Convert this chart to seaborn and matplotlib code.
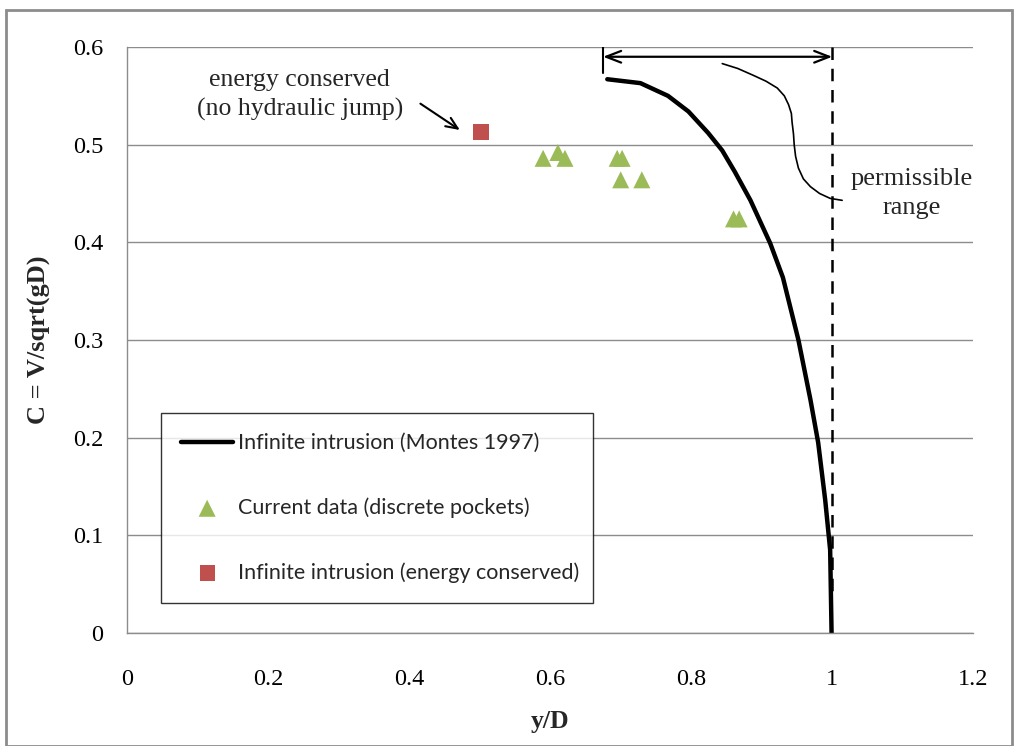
import numpy as np
import pandas as pd
import seaborn as sns
import matplotlib.pyplot as plt
from matplotlib.patches import Rectangle

# Infinite intrusion (Montes 1997) curve
montes_yd = [0.681, 0.728, 0.767, 0.796, 0.824, 0.844, 0.862, 0.884, 0.912, 0.930,
             0.952, 0.969, 0.980, 0.990, 0.997, 0.999]
montes_c = [0.567, 0.563, 0.550, 0.534, 0.512, 0.494, 0.472, 0.443, 0.399, 0.364,
            0.300, 0.239, 0.195, 0.136, 0.085, 0.0]

# current data (discrete pockets)
pocket_yd = [0.590, 0.611, 0.621, 0.695, 0.702, 0.700, 0.730, 0.860, 0.868]
pocket_c = [0.486, 0.492, 0.486, 0.486, 0.486, 0.464, 0.464, 0.424, 0.424]

# infinite intrusion, energy conserved
energy_yd = [0.502]
energy_c = [0.513]

x_ticks = [0, 0.2, 0.4, 0.6, 0.8, 1, 1.2]
y_ticks = [0, 0.1, 0.2, 0.3, 0.4, 0.5, 0.6]

sns.set_theme(style="white")
plt.rcParams["font.family"] = ["Liberation Serif", "DejaVu Serif"]

fig = plt.figure(figsize=(10.16, 7.46), dpi=100)
ax = fig.add_axes([0.125, 0.1515, 0.833, 0.7855])

# chart area frame
fig.patches.append(Rectangle((0.006, 0.0), 0.99, 0.986, transform=fig.transFigure,
                             fill=False, edgecolor="#8c8c8c", linewidth=2))

montes = pd.DataFrame({"yd": montes_yd, "c": montes_c})
pockets = pd.DataFrame({"yd": pocket_yd, "c": pocket_c})
energy = pd.DataFrame({"yd": energy_yd, "c": energy_c})

sns.lineplot(data=montes, x="yd", y="c", ax=ax, color="black", linewidth=3.2,
             sort=False, label="Infinite intrusion (Montes 1997)")
sns.scatterplot(data=pockets, x="yd", y="c", ax=ax, marker="^", s=150, color="#9BBB59",
                edgecolor="none", label="Current data (discrete pockets)")
sns.scatterplot(data=energy, x="yd", y="c", ax=ax, marker="s", s=120, color="#C0504D",
                edgecolor="none", label="Infinite intrusion (energy conserved)")

ax.set_xlim(0, 1.2)
ax.set_ylim(0, 0.6)
ax.set_xticks(x_ticks)
ax.set_xticklabels([f"{v:g}" for v in x_ticks])
ax.set_yticks(y_ticks)
ax.set_yticklabels([f"{v:g}" for v in y_ticks])
ax.yaxis.grid(True, color="#8c8c8c", linewidth=1)
ax.set_axisbelow(True)
for side in ["top", "right"]:
    ax.spines[side].set_visible(False)
for side in ["left", "bottom"]:
    ax.spines[side].set_color("#8c8c8c")
    ax.spines[side].set_linewidth(1)
ax.tick_params(axis="both", direction="out", length=6, width=1, color="#8c8c8c",
               labelsize=17.5, colors="#8c8c8c", labelcolor="black", pad=11)
ax.tick_params(axis="x", pad=20)
ax.set_xlabel("y/D", fontsize=18.5, fontweight="bold", labelpad=14)
ax.set_ylabel("C = V/sqrt(gD)", fontsize=19, fontweight="bold", labelpad=16)

# permissible range markers
ax.plot([1.0, 1.0], [0.6, 0.04], color="black", linestyle=(0, (5, 3.5)), linewidth=1.8)
ax.plot([0.675, 0.675], [0.6, 0.573], color="black", linewidth=1.5)
ax.annotate("", xy=(0.675, 0.590), xytext=(1.0, 0.590),
            arrowprops=dict(arrowstyle="<->,head_length=0.9,head_width=0.35", color="black",
                            linewidth=1.6, shrinkA=0, shrinkB=0))
wig_x = [0.844, 0.866, 0.888, 0.906, 0.922, 0.932, 0.938, 0.942, 0.943, 0.945, 0.946,
         0.948, 0.952, 0.959, 0.969, 0.982, 0.997, 1.014]
wig_y = [0.583, 0.578, 0.571, 0.565, 0.558, 0.550, 0.541, 0.532, 0.523, 0.511, 0.500,
         0.488, 0.476, 0.465, 0.457, 0.450, 0.445, 0.443]
ax.plot(wig_x, wig_y, color="black", linewidth=1.2)
ax.text(1.113, 0.450, "permissible\nrange", ha="center", va="center", fontsize=19,
        linespacing=1.4)

ax.text(0.245, 0.551, "energy conserved\n(no hydraulic jump)", ha="center", va="center",
        fontsize=18.5, linespacing=1.4)
ax.annotate("", xy=(0.472, 0.515), xytext=(0.416, 0.542),
            arrowprops=dict(arrowstyle="->,head_length=0.7,head_width=0.3", color="black",
                            linewidth=1.5, shrinkA=0, shrinkB=0))

leg = ax.legend(loc="lower left", bbox_to_anchor=(0.040, 0.051, 0.511, 0.33), mode="expand",
                frameon=True, fancybox=False, prop={"family": "Lato", "size": 15.5},
                labelspacing=2.05, handlelength=2.4, borderpad=0.95, handletextpad=0.25,
                borderaxespad=0)
leg.get_frame().set_edgecolor("black")
leg.get_frame().set_linewidth(1.0)

fig.savefig("out.png", dpi=100)
